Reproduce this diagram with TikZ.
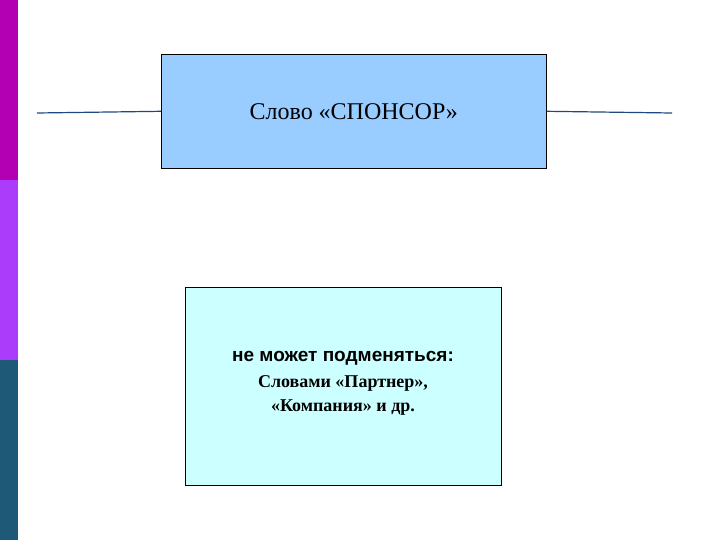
\documentclass[tikz,border=0pt]{standalone}
\usepackage{fontspec}
\setmainfont{Liberation Serif}
\setsansfont{Liberation Sans}
\definecolor{barA}{RGB}{178,0,178}
\definecolor{barB}{RGB}{170,60,250}
\definecolor{barC}{RGB}{30,90,120}
\definecolor{lineC}{RGB}{31,73,125}
\definecolor{topF}{RGB}{153,204,255}
\definecolor{botF}{RGB}{204,255,255}
\begin{document}
\begin{tikzpicture}[x=1pt,y=-1pt,
  box/.style={draw=black,line width=0.6pt,anchor=north west,inner sep=0pt},
  conn/.style={draw=lineC,line width=1.2pt}]
\useasboundingbox (0,0) rectangle (720,540);
\fill[white] (0,0) rectangle (720,540);
\fill[barA] (0,0) rectangle (18,180);
\fill[barB] (0,180) rectangle (18,360);
\fill[barC] (0,360) rectangle (18,540);
\node[box,fill=topF,minimum width=385pt,minimum height=114pt] (top) at (161,54) {};
\node[font=\fontsize{24}{28}\selectfont] (title) at (top.center) {Слово «СПОНСОР»};
\coordinate (l) at (37,113);
\coordinate (r) at (672,113);
\draw[conn] (l) -- (top.west);
\draw[conn] (top.east) -- (r);
\node[box,fill=botF,minimum width=316pt,minimum height=198pt] (bot) at (185,287) {};
\node[align=center,font=\bfseries\fontsize{18}{24}\selectfont] (txt) at (343,383)
 {{\sffamily\fontsize{19}{24}\selectfont не может подменяться:}\\[2pt]Словами «Партнер»,\\«Компания» и др.};
\end{tikzpicture}
\end{document}
